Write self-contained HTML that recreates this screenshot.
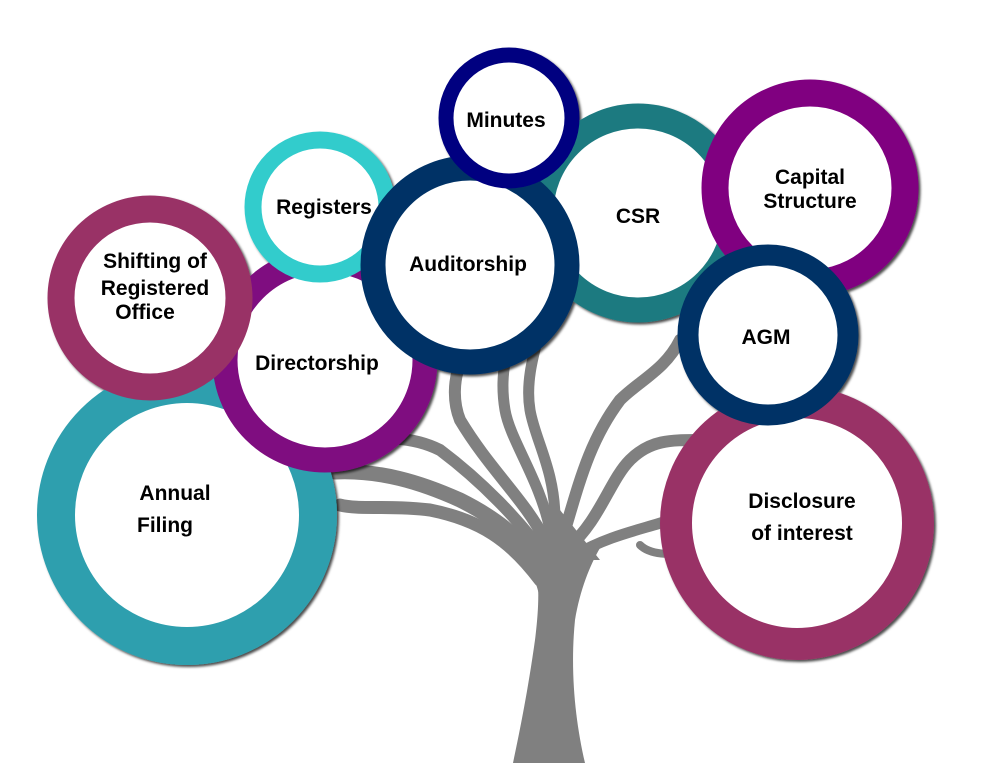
<!DOCTYPE html>
<html><head><style>
html,body{margin:0;padding:0;background:#fff;}
svg{display:block}
text{font-family:"Liberation Sans",sans-serif;font-weight:bold;font-size:21px;fill:#000;text-anchor:middle}
</style></head><body>
<svg width="992" height="763" viewBox="0 0 992 763">
<defs>
<filter id="sh" x="-10%" y="-10%" width="130%" height="130%"><feDropShadow dx="2" dy="2" stdDeviation="1.2" flood-color="#000" flood-opacity="0.7"/></filter>
</defs>
<g fill="none" stroke="#808080" stroke-linecap="round">
<path d="M548 600 C540 560 520 530 460 500 C420 482 380 470 335 472" stroke-width="15"/>
<path d="M540 580 C510 540 480 520 430 510 C390 505 360 510 340 505" stroke-width="13"/>
<path d="M548 560 C520 520 480 480 440 450 C410 435 380 438 360 440" stroke-width="12"/>
<path d="M545 540 C525 500 490 470 460 420 C452 400 455 380 458 370" stroke-width="12"/>
<path d="M550 530 C540 480 510 440 505 410 C500 380 505 360 510 340" stroke-width="11"/>
<path d="M555 520 C555 470 535 440 530 410 C525 380 535 350 540 330" stroke-width="11"/>
<path d="M565 530 C580 480 590 440 620 400 C640 380 665 370 680 340" stroke-width="12"/>
<path d="M568 548 C600 520 610 480 630 460 C650 440 670 440 700 440" stroke-width="12"/>
<path d="M575 555 C610 535 640 530 670 520 C690 512 700 510 700 510" stroke-width="11"/>
<path d="M640 545 C650 555 670 555 690 553" stroke-width="8"/>
</g>
<path d="M513 763 L585 763 C575 720 570 670 575 620 C580 590 590 565 600 548 L530 545 C540 570 540 600 535 640 C528 690 520 730 513 763 Z" fill="#808080"/>
<path d="M530 560 L560 510 L600 560 Z" fill="#808080"/>
<g filter="url(#sh)">
<circle cx="187" cy="515" r="131" fill="#fff" stroke="#2e9fae" stroke-width="38"/>
<circle cx="325" cy="360" r="100" fill="#fff" stroke="#7f0e80" stroke-width="25"/>
<circle cx="150" cy="298" r="89" fill="#fff" stroke="#993366" stroke-width="27"/>
<circle cx="320" cy="207" r="67" fill="#fff" stroke="#33cccc" stroke-width="17"/>
<circle cx="638" cy="213" r="97" fill="#fff" stroke="#1e7a80" stroke-width="25"/>
<circle cx="470" cy="265" r="97" fill="#fff" stroke="#003366" stroke-width="25"/>
<circle cx="509" cy="118" r="63" fill="#fff" stroke="#000080" stroke-width="15"/>
<circle cx="810" cy="188" r="95" fill="#fff" stroke="#800080" stroke-width="27"/>
<circle cx="797" cy="523" r="121" fill="#fff" stroke="#993366" stroke-width="32"/>
<circle cx="768" cy="335" r="80" fill="#fff" stroke="#003366" stroke-width="21"/>
</g>
<text x="175" y="500">Annual</text>
<text x="165" y="532">Filing</text>
<text x="317" y="370" font-size="19">Directorship</text>
<text x="155" y="268">Shifting of</text>
<text x="155" y="295">Registered</text>
<text x="145" y="319">Office</text>
<text x="324" y="214">Registers</text>
<text x="468" y="271">Auditorship</text>
<text x="506" y="127">Minutes</text>
<text x="638" y="223">CSR</text>
<text x="810" y="184">Capital</text>
<text x="810" y="208">Structure</text>
<text x="766" y="344">AGM</text>
<text x="802" y="508">Disclosure</text>
<text x="802" y="540">of interest</text>
</svg>
</body></html>
